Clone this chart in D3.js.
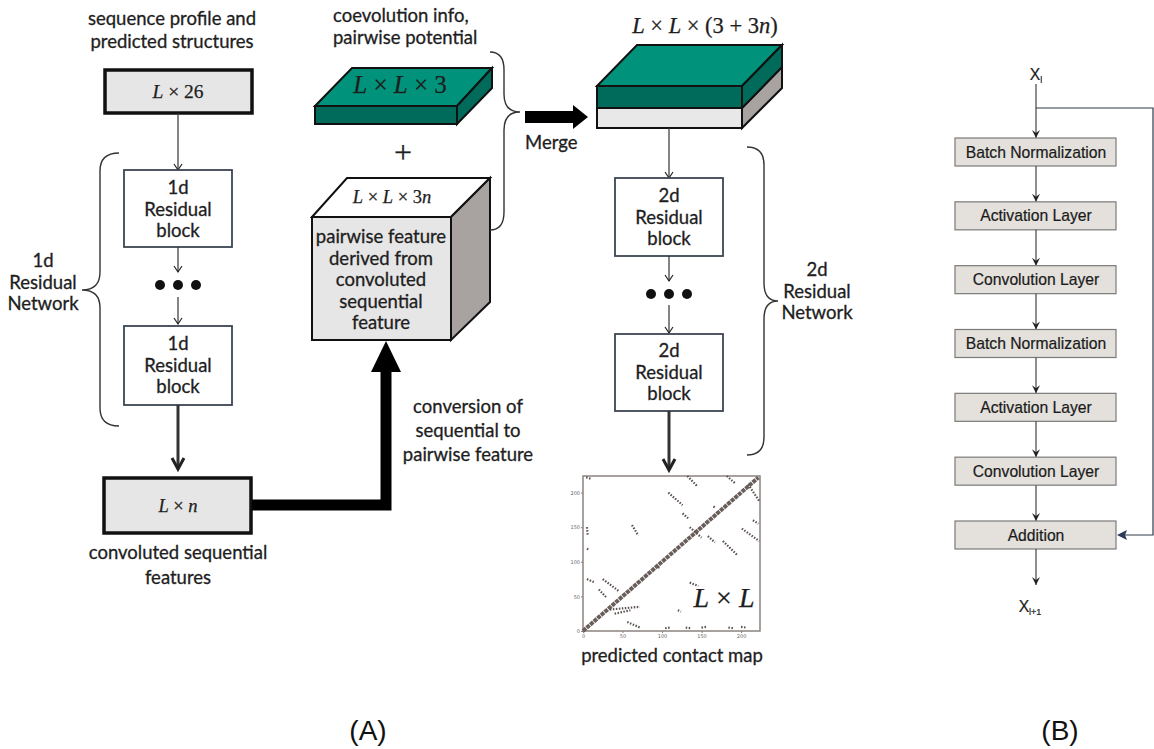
<!DOCTYPE html>
<html lang="en">
<head>
<meta charset="UTF-8">
<title>Residual network diagram</title>
<script src="https://d3js.org/d3.v7.min.js"></script>
<style>
  body { margin: 0; background: #fff; }
  svg { display: block; }
  .lbl { font-family: Lato, 'Open Sans', sans-serif; font-size: 18.5px; fill: #1e1e1e; stroke: #1e1e1e; stroke-width: 0.3px; }
  .math { font-family: 'Liberation Serif', 'DejaVu Serif', serif; fill: #1e1e1e; stroke: #1e1e1e; stroke-width: 0.25px; }
  .blab { font-family: 'Liberation Sans', Arial, sans-serif; font-size: 15.7px; fill: #1a1a1a; stroke: #1a1a1a; stroke-width: 0.2px; }
  .tick text { font-size: 5px; fill: #666; font-family: 'DejaVu Sans', sans-serif; }
  .tick line, .domain { stroke: #8a8280; }
</style>
</head>
<body>
<script>
// ---- content ----
const inputCaption = ["sequence profile and", "predicted structures"];
const coevoCaption = ["coevolution info,", "pairwise potential"];
const convCaption = ["convoluted sequential", "features"];
const cubeText = ["pairwise feature", "derived from", "convoluted", "sequential", "feature"];
const conversionCaption = ["conversion of", "sequential to", "pairwise feature"];
const block1d = ["1d", "Residual", "block"];
const block2d = ["2d", "Residual", "block"];
const net1d = ["1d", "Residual", "Network"];
const net2d = ["2d", "Residual", "Network"];
const resLayers = ["Batch Normalization", "Activation Layer", "Convolution Layer",
                   "Batch Normalization", "Activation Layer", "Convolution Layer", "Addition"];

// contact map (residue index pairs)
const mapTicks = [0, 50, 100, 150, 200];
const mapDiagonal = [[0, 0], [222, 222]];
const mapContacts = [
  [108, 200, 126, 182], [126, 170, 133, 163], [135, 150, 150, 135], [158, 137, 167, 128],
  [177, 130, 195, 110], [201, 148, 223, 130], [182, 224, 192, 214], [132, 224, 144, 210],
  [209, 212, 223, 188], [62, 153, 70, 138], [135, 70, 146, 65], [5, 75, 15, 70],
  [25, 75, 45, 58], [20, 60, 30, 48], [34, 31, 72, 35], [40, 25, 60, 30],
  [56, 13, 72, 5], [5, 150, 6, 138], [4, 222, 10, 220], [5, 119, 8, 117],
  [104, 4, 110, 5], [130, 5, 136, 4], [150, 5, 156, 6], [184, 5, 190, 4], [200, 6, 206, 5],
  [120, 30, 124, 28], [95, 92, 98, 92], [165, 180, 168, 178], [215, 160, 222, 155]
];

const W = 1154, H = 749;
const svg = d3.select("body").append("svg").attr("width", W).attr("height", H);
svg.append("rect").attr("width", W).attr("height", H).attr("fill", "#fff");

function lines(g, arr, x, y0, dy, cls, anchor) {
  arr.forEach((t, i) => g.append("text").attr("class", cls || "lbl")
    .attr("x", x).attr("y", y0 + i * dy)
    .attr("text-anchor", anchor || "middle").text(t));
}

// math-style label: parts = [text, italic]
function math(g, x, y, parts, size) {
  const t = g.append("text").attr("class", "math").attr("x", x).attr("y", y)
    .attr("text-anchor", "middle").attr("font-size", size);
  parts.forEach(p => t.append("tspan").attr("font-style", p[1] ? "italic" : "normal").text(p[0]));
}

function vHead(g, x, y, hw, hl, sw, col) {
  g.append("path").attr("d", `M${x - hw},${y - hl}L${x},${y}L${x + hw},${y - hl}`)
    .attr("fill", "none").attr("stroke", col || "#222").attr("stroke-width", sw);
}

function arrowDown(g, x, y1, y2, sw, hw, hl) {
  g.append("line").attr("x1", x).attr("x2", x).attr("y1", y1).attr("y2", y2)
    .attr("stroke", "#333").attr("stroke-width", sw);
  vHead(g, x, y2, hw, hl, sw);
}

function box(g, x, y, w, h, fill, stroke, sw) {
  g.append("rect").attr("x", x).attr("y", y).attr("width", w).attr("height", h)
    .attr("fill", fill).attr("stroke", stroke).attr("stroke-width", sw);
}

// curly brace: ends at xe, vertical stroke at xv, tip at xt
function brace(g, xe, xv, xt, yTop, yTip, yBot) {
  const r = 18;
  const d = `M${xe},${yTop}Q${xv},${yTop} ${xv},${yTop + r}L${xv},${yTip - r}` +
    `Q${xv},${yTip} ${xt},${yTip}Q${xv},${yTip} ${xv},${yTip + r}` +
    `L${xv},${yBot - r}Q${xv},${yBot} ${xe},${yBot}`;
  g.append("path").attr("d", d).attr("fill", "none").attr("stroke", "#333").attr("stroke-width", 1.4);
}

const A = svg.append("g");

// ---- left column: 1d network ----
lines(A, inputCaption, 172, 25, 23);
box(A, 105, 70, 147, 43, "#e6e6e6", "#111", 3.5);
math(A, 178, 98, [["L", 1], [" × 26", 0]], 19.5);
arrowDown(A, 178, 113, 170, 1.2, 4, 6);

const residColor = "#3c4552";
box(A, 124, 170, 108, 77, "#fff", residColor, 1.8);
lines(A, block1d, 178, 194, 21.5);
arrowDown(A, 178, 247, 272, 1.2, 4, 6);
[-18, 0, 18].forEach(dx => A.append("circle").attr("cx", 178 + dx).attr("cy", 285).attr("r", 5).attr("fill", "#111"));
arrowDown(A, 178, 297, 324, 1.2, 4, 6);
box(A, 124, 326, 108, 79, "#fff", residColor, 1.8);
lines(A, block1d, 178, 350, 21.5);
arrowDown(A, 178, 405, 469, 3, 6, 11);

brace(A, 119, 100, 82, 153, 290, 426);
lines(A, net1d, 43, 267, 21.5);

box(A, 104, 478, 147, 55, "#e6e6e6", "#111", 3.5);
math(A, 178, 512, [["L", 1], [" × ", 0], ["n", 1]], 18.5);
lines(A, convCaption, 178, 559, 25);

// thick conversion arrow
A.append("path").attr("d", "M252,505H386V368").attr("fill", "none")
  .attr("stroke", "#000").attr("stroke-width", 11).attr("stroke-linejoin", "miter");
A.append("path").attr("d", "M371,372L386,341L401,372Z").attr("fill", "#000");
lines(A, conversionCaption, 468, 413, 24);

// ---- cube: pairwise feature ----
A.append("polygon").attr("points", "312,217 347,178 490,178 451,217")
  .attr("fill", "#fff").attr("stroke", "#111").attr("stroke-width", 2);
A.append("polygon").attr("points", "451,217 490,178 490,302 451,340")
  .attr("fill", "#a8a2a0").attr("stroke", "#111").attr("stroke-width", 2);
box(A, 312, 217, 139, 123, "#e6e6e6", "#111", 2);
math(A, 392, 203, [["L", 1], [" × ", 0], ["L", 1], [" × 3", 0], ["n", 1]], 18.5);
lines(A, cubeText, 381, 243, 21.5);

// ---- teal slab: coevolution ----
lines(A, coevoCaption, 333, 22, 22, "lbl", "start");
A.append("polygon").attr("points", "315,106 352,68 492,68 457,106")
  .attr("fill", "#00927b").attr("stroke", "#111").attr("stroke-width", 2);
A.append("polygon").attr("points", "457,106 492,68 492,88 457,124")
  .attr("fill", "#006b5b").attr("stroke", "#111").attr("stroke-width", 2);
box(A, 315, 106, 142, 18, "#006b5b", "#111", 2);
math(A, 400, 93, [["L", 1], [" × ", 0], ["L", 1], [" × 3", 0]], 25);
A.append("text").attr("class", "math").attr("x", 403).attr("y", 163)
  .attr("text-anchor", "middle").attr("font-size", 32).text("+");

brace(A, 490, 504, 520, 52, 112, 230);

// merge arrow
A.append("rect").attr("x", 525).attr("y", 111).attr("width", 50).attr("height", 12).attr("fill", "#000");
A.append("path").attr("d", "M573,105L588,117L573,129Z").attr("fill", "#000");
A.append("text").attr("class", "lbl").attr("x", 525).attr("y", 149).text("Merge");

// ---- merged slab ----
math(A, 705, 33, [["L", 1], [" × ", 0], ["L", 1], [" × (3 + 3", 0], ["n", 1], [")", 0]], 22.5);
A.append("polygon").attr("points", "597,86 637,45 782,45 742,86")
  .attr("fill", "#00927b").attr("stroke", "#111").attr("stroke-width", 2);
A.append("polygon").attr("points", "742,108 782,67 782,88 742,128")
  .attr("fill", "#a8a2a0").attr("stroke", "#111").attr("stroke-width", 2);
A.append("polygon").attr("points", "742,86 782,45 782,67 742,108")
  .attr("fill", "#006b5b").attr("stroke", "#111").attr("stroke-width", 2);
box(A, 597, 108, 145, 20, "#e8e8e8", "#111", 2);
box(A, 597, 86, 145, 22, "#006b5b", "#111", 2);

// ---- 2d network ----
arrowDown(A, 669, 128, 178, 1.2, 4, 6);
box(A, 615, 178, 108, 78, "#fff", residColor, 1.8);
lines(A, block2d, 669, 202, 21.5);
arrowDown(A, 669, 256, 281, 1.2, 4, 6);
[-18, 0, 18].forEach(dx => A.append("circle").attr("cx", 669 + dx).attr("cy", 294).attr("r", 5).attr("fill", "#111"));
arrowDown(A, 669, 305, 333, 1.2, 4, 6);
box(A, 615, 334, 108, 77, "#fff", residColor, 1.8);
lines(A, block2d, 669, 357, 21.5);
arrowDown(A, 669, 411, 470, 3, 6, 11);

brace(A, 747, 764, 778, 147, 301, 455);
lines(A, net2d, 817, 276, 21.5);

// ---- contact map ----
const mx = d3.scaleLinear().domain([0, 224]).range([583, 760]);
const my = d3.scaleLinear().domain([0, 224]).range([631, 476]);
A.append("rect").attr("x", mx(0)).attr("y", my(224)).attr("width", mx(224) - mx(0))
  .attr("height", my(0) - my(224)).attr("fill", "#fff").attr("stroke", "#8a8280").attr("stroke-width", 1.5);
A.append("g").attr("transform", `translate(0,${my(0)})`)
  .call(d3.axisBottom(mx).tickValues(mapTicks).tickSize(2).tickPadding(1));
A.append("g").attr("transform", `translate(${mx(0)},0)`)
  .call(d3.axisLeft(my).tickValues(mapTicks).tickSize(2).tickPadding(1));
A.selectAll(".domain").remove();

A.append("line").attr("x1", mx(mapDiagonal[0][0])).attr("y1", my(mapDiagonal[0][1]))
  .attr("x2", mx(mapDiagonal[1][0])).attr("y2", my(mapDiagonal[1][1]))
  .attr("stroke", "#6a5e5b").attr("stroke-width", 4).attr("stroke-dasharray", "4 0.8");
A.selectAll(".contact").data(mapContacts).join("line").attr("class", "contact")
  .attr("x1", d => mx(d[0])).attr("y1", d => my(d[1]))
  .attr("x2", d => mx(d[2])).attr("y2", d => my(d[3]))
  .attr("stroke", "#5a504d").attr("stroke-width", 2.2).attr("stroke-dasharray", "1.5 1.5");

math(A, 724, 607, [["L", 1], [" × ", 0], ["L", 1]], 28);
A.append("text").attr("class", "lbl").attr("x", 672).attr("y", 662)
  .attr("text-anchor", "middle").text("predicted contact map");

A.append("text").attr("x", 368).attr("y", 740).attr("text-anchor", "middle")
  .attr("font-family", "'Liberation Sans', Arial, sans-serif").attr("font-size", 28)
  .attr("fill", "#111").text("(A)");

// ---- (B) residual block ----
const B = svg.append("g");
const bx = 1036, bw = 161, bh = 28;
const by = d3.scaleLinear().domain([0, resLayers.length - 1]).range([138, 521]);

function bArrow(y1, y2) {
  B.append("line").attr("x1", bx).attr("x2", bx).attr("y1", y1).attr("y2", y2)
    .attr("stroke", "#444").attr("stroke-width", 1.2);
  B.append("path").attr("d", `M${bx - 4},${y2 - 8}L${bx},${y2}L${bx + 4},${y2 - 8}L${bx},${y2 - 5}Z`)
    .attr("fill", "#222");
}

B.append("text").attr("class", "blab").attr("x", bx).attr("y", 80).attr("text-anchor", "middle")
  .attr("font-size", 17).text("X").append("tspan").attr("font-size", 9).attr("dy", 3).text("l");
bArrow(84, by(0));
resLayers.forEach((name, i) => {
  const y = by(i);
  if (i > 0) bArrow(by(i - 1) + bh, y);
  B.append("rect").attr("x", bx - 81).attr("y", y).attr("width", bw).attr("height", bh)
    .attr("fill", "#e4e0db").attr("stroke", "#7a7a7a").attr("stroke-width", 1.2);
  B.append("text").attr("class", "blab").attr("x", bx).attr("y", y + 19.5)
    .attr("text-anchor", "middle").text(name);
});
bArrow(by(6) + bh, 585);
B.append("text").attr("class", "blab").attr("x", bx - 6).attr("y", 612).attr("text-anchor", "middle")
  .attr("font-size", 17).text("X").append("tspan").attr("font-size", 9).attr("dy", 3).text("l+1");

// skip connection
const yAdd = by(6) + bh / 2;
B.append("path").attr("d", `M${bx},108H1153V${yAdd}H${bx + 84}`)
  .attr("fill", "none").attr("stroke", "#2f3a4a").attr("stroke-width", 1.2);
B.append("path").attr("d", `M${bx + 81},${yAdd}L${bx + 91},${yAdd - 5}L${bx + 89},${yAdd}L${bx + 91},${yAdd + 5}Z`)
  .attr("fill", "#2b3a55");

B.append("text").attr("x", 1060).attr("y", 740).attr("text-anchor", "middle")
  .attr("font-family", "'Liberation Sans', Arial, sans-serif").attr("font-size", 28)
  .attr("fill", "#111").text("(B)");
</script>
</body>
</html>
